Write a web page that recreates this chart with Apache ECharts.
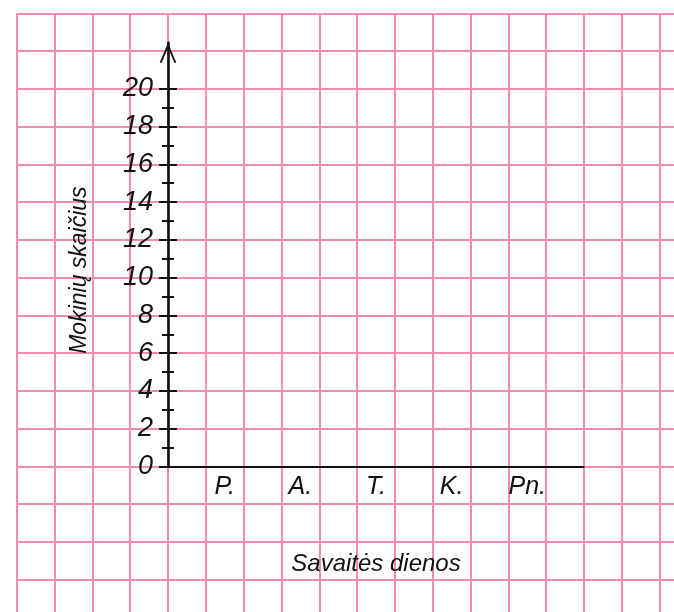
<!DOCTYPE html>
<html>
<head>
<meta charset="utf-8">
<script src="https://cdn.jsdelivr.net/npm/echarts@6/dist/echarts.min.js"></script>
<style>
  html, body { margin: 0; padding: 0; background: #fff; }
  #main { width: 674px; height: 612px; }
</style>
</head>
<body>
<div id="main"></div>
<script>
// savaitės dienos ir (tuščios) reikšmės
const days = ['P.', 'A.', 'T.', 'K.', 'Pn.'];
const studentCounts = [null, null, null, null, null];
const yMin = 0;
const yMax = 20;
const yStep = 2;

const pink = '#f28ab2';
const ink = '#111';
const font = 'Liberation Sans';

let chart = echarts.init(document.getElementById('main'), null, { renderer: 'canvas' });

chart.setOption({
  animation: false,
  grid: [
    // languoto popieriaus tinklelis (langelis ~37.8 px)
    { left: 16.7, top: 13.3, right: 0, bottom: 0 },
    // ašių linijos ir rodyklė
    { left: 168, right: 90.5, top: 42.7, bottom: 145.5 },
    // padalos, skaičiai, dienos
    { left: 186.9, width: 378.2, top: 88.7, bottom: 145.5 }
  ],
  xAxis: [
    {
      gridIndex: 0, type: 'value', min: 0, max: 657.3 / 37.82, interval: 1,
      axisLine: { show: false }, axisTick: { show: false }, axisLabel: { show: false },
      splitLine: { show: true, showMaxLine: false, lineStyle: { color: pink, width: 2 } }
    },
    {
      gridIndex: 1, type: 'value', min: 0, max: 1, z: 5,
      axisLine: { show: true, onZero: false, lineStyle: { color: ink, width: 2.2 } },
      axisTick: { show: false }, axisLabel: { show: false }, splitLine: { show: false }
    },
    {
      gridIndex: 2, type: 'category', data: days, z: 5,
      axisLine: { show: false }, axisTick: { show: false },
      axisLabel: { margin: 8, color: ink, fontSize: 25, fontStyle: 'italic', fontFamily: font },
      name: 'Savaitės dienos', nameLocation: 'middle', nameGap: 86,
      nameTextStyle: { color: ink, fontSize: 24, fontStyle: 'italic', fontFamily: font }
    }
  ],
  yAxis: [
    {
      gridIndex: 0, type: 'value', inverse: true, min: 0, max: 598.7 / 37.76, interval: 1,
      axisLine: { show: false }, axisTick: { show: false }, axisLabel: { show: false },
      splitLine: { show: true, showMaxLine: false, lineStyle: { color: pink, width: 2 } }
    },
    {
      gridIndex: 1, type: 'value', min: 0, max: 1, z: 5,
      axisLine: {
        show: true, onZero: false,
        symbol: ['none', 'path://M0,12 L5,0 L10,12 L8.8,12 L5,2.9 L1.2,12 Z'],
        symbolSize: [17, 20], symbolOffset: [0, -10],
        lineStyle: { color: ink, width: 2.6 }
      },
      axisTick: { show: false }, axisLabel: { show: false }, splitLine: { show: false }
    },
    {
      gridIndex: 2, type: 'value', min: yMin, max: yMax, interval: yStep,
      position: 'left', offset: 18.9, z: 5,
      axisLine: { show: false },
      axisTick: { show: true, length: 9, lineStyle: { color: ink, width: 2 } },
      minorTick: { show: true, splitNumber: 2, length: 6, lineStyle: { color: ink, width: 2 } },
      axisLabel: { margin: 15, color: ink, fontSize: 27, fontStyle: 'italic', fontFamily: font },
      splitLine: { show: false },
      name: 'Mokinių skaičius', nameLocation: 'middle', nameGap: 77,
      nameTextStyle: { color: ink, fontSize: 23, fontStyle: 'italic', fontFamily: font, padding: [0, 0, 0, 15] }
    },
    {
      gridIndex: 2, type: 'value', min: yMin, max: yMax, interval: yStep,
      position: 'left', offset: 18.9, z: 5,
      axisLine: { show: false },
      axisTick: { show: true, inside: true, length: 9, lineStyle: { color: ink, width: 2 } },
      minorTick: { show: true, splitNumber: 2, length: 6, lineStyle: { color: ink, width: 2 } },
      axisLabel: { show: false },
      splitLine: { show: false }
    }
  ],
  series: [
    {
      type: 'bar', xAxisIndex: 2, yAxisIndex: 2,
      data: studentCounts, itemStyle: { color: '#4a90d9' }
    }
  ]
});
</script>
</body>
</html>
